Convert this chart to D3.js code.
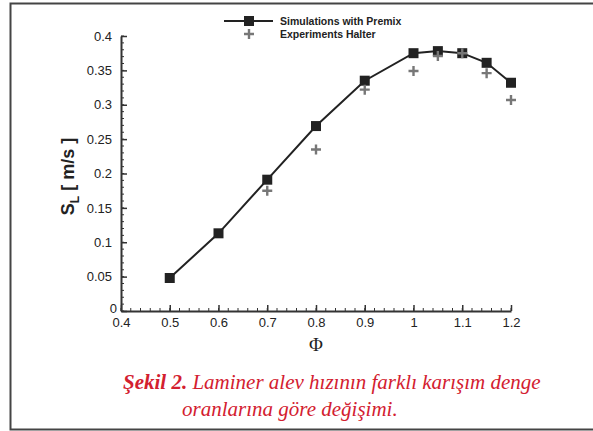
<!DOCTYPE html>
<html>
<head>
<meta charset="utf-8">
<script src="https://cdn.jsdelivr.net/npm/d3@7"></script>
<style>
  body { margin: 0; background: #fff; }
  svg { display: block; }
</style>
</head>
<body>
<div id="chart"></div>
<script>
// simulations (Premix) and experiments (Halter)
let simPhi = [0.5, 0.6, 0.7, 0.8, 0.9, 1.0, 1.05, 1.1, 1.15, 1.2];
let simSL = [0.048, 0.113, 0.191, 0.269, 0.335, 0.375, 0.378, 0.375, 0.361, 0.332];
let expPhi = [0.7, 0.8, 0.9, 1.0, 1.05, 1.1, 1.15, 1.2];
let expSL = [0.175, 0.235, 0.322, 0.349, 0.371, 0.375, 0.346, 0.307];
let xTicks = [0.4, 0.5, 0.6, 0.7, 0.8, 0.9, 1, 1.1, 1.2];
let yTicks = [0, 0.05, 0.1, 0.15, 0.2, 0.25, 0.3, 0.35, 0.4];
let legendNames = ["Simulations with Premix", "Experiments Halter"];
let captionBold = "Şekil 2.";
let captionLine1 = " Laminer alev hızının farklı karışım denge";
let captionLine2 = "oranlarına göre değişimi.";

let W = 593, H = 431;
let svg = d3.select("#chart").append("svg")
  .attr("width", W).attr("height", H);

// outer frame (top, left, bottom)
svg.append("path")
  .attr("d", "M593,3.5 H10.5 V429.5 H593")
  .attr("fill", "none").attr("stroke", "#444").attr("stroke-width", 2);

let x = d3.scaleLinear().domain([0.4, 1.2]).range([121, 511]);
let y = d3.scaleLinear().domain([0, 0.4]).range([311, 36]);

let g = svg.append("g");
let axisColor = "#333";

// minor ticks
let xMinor = d3.range(0.4, 1.2001, 0.02);
let yMinor = d3.range(0, 0.4001, 0.01);
g.selectAll(".xminor").data(xMinor).enter().append("line")
  .attr("x1", d => x(d)).attr("x2", d => x(d))
  .attr("y1", y(0)).attr("y2", y(0) - 3)
  .attr("stroke", axisColor).attr("stroke-width", 1);
g.selectAll(".yminor").data(yMinor).enter().append("line")
  .attr("y1", d => y(d)).attr("y2", d => y(d))
  .attr("x1", x(0.4)).attr("x2", x(0.4) + 3)
  .attr("stroke", axisColor).attr("stroke-width", 1);

// axes with inward ticks
let fmt = d => d3.format("")(+d.toFixed(2));
let xAx = g.append("g").attr("transform", `translate(0,${y(0)})`)
  .call(d3.axisBottom(x).tickValues(xTicks).tickSizeInner(-6).tickSizeOuter(0)
    .tickPadding(7).tickFormat(fmt));
let yAx = g.append("g").attr("transform", `translate(${x(0.4)},0)`)
  .call(d3.axisLeft(y).tickValues(yTicks).tickSizeInner(-6).tickSizeOuter(0)
    .tickPadding(9).tickFormat(fmt));

[xAx, yAx].forEach(a => {
  a.select(".domain").attr("stroke", axisColor).attr("stroke-width", 2);
  a.selectAll(".tick line").attr("stroke", axisColor).attr("stroke-width", 1.5);
  a.selectAll("text").attr("fill", "#222")
    .style("font-family", "Liberation Sans, Arial, sans-serif").style("font-size", "13px");
});
yAx.selectAll(".tick text").filter(d => d === 0).attr("dy", "0.1em").attr("x", -4);

// axis titles
let yTitle = g.append("text")
  .attr("transform", `translate(74,${y(0.2) + 3}) rotate(-90)`)
  .attr("text-anchor", "middle")
  .style("font-family", "Liberation Sans, Arial, sans-serif")
  .style("font-weight", "bold").style("font-size", "18px").attr("fill", "#222");
yTitle.append("tspan").text("S");
yTitle.append("tspan").attr("dy", 5).style("font-size", "12px").text("L");
yTitle.append("tspan").attr("dy", -5).text(" [ m/s ]");

g.append("text")
  .attr("x", x(0.8)).attr("y", 351)
  .attr("text-anchor", "middle")
  .style("font-family", "Liberation Serif, Times New Roman, serif")
  .style("font-size", "19px").attr("fill", "#222")
  .text("Φ");

// simulation line + squares
let pts = simPhi.map((p, i) => [p, simSL[i]]);
g.append("path").datum(pts)
  .attr("d", d3.line().x(d => x(d[0])).y(d => y(d[1])))
  .attr("fill", "none").attr("stroke", "#222").attr("stroke-width", 2);
let sq = 10;
g.selectAll(".sim").data(pts).enter().append("rect")
  .attr("x", d => x(d[0]) - sq / 2).attr("y", d => y(d[1]) - sq / 2)
  .attr("width", sq).attr("height", sq).attr("fill", "#222");

// experiment crosses
function drawPlus(sel, cx, cy) {
  sel.append("path")
    .attr("d", `M${cx - 5},${cy} H${cx + 5} M${cx},${cy - 5} V${cy + 5}`)
    .attr("stroke", "#777").attr("stroke-width", 2.4).attr("fill", "none");
}
expPhi.forEach((p, i) => drawPlus(g, x(p), y(expSL[i])));

// legend
let lg = svg.append("g");
lg.append("line").attr("x1", 224).attr("x2", 273).attr("y1", 21).attr("y2", 21)
  .attr("stroke", "#222").attr("stroke-width", 2);
lg.append("rect").attr("x", 244).attr("y", 16).attr("width", 10).attr("height", 10).attr("fill", "#222");
drawPlus(lg, 249, 34);
legendNames.forEach((n, i) => {
  lg.append("text").attr("x", 280).attr("y", 25 + i * 13)
    .style("font-family", "Liberation Sans, Arial, sans-serif")
    .style("font-weight", "bold").style("font-size", "10.5px")
    .attr("fill", "#222").text(n);
});

// caption
let capColor = "#d3202f";
let c1 = svg.append("text").attr("x", 123).attr("y", 389)
  .style("font-family", "Liberation Serif, Times New Roman, serif")
  .style("font-style", "italic").style("font-size", "21px").attr("fill", capColor);
c1.append("tspan").style("font-weight", "bold").text(captionBold);
c1.append("tspan").text(captionLine1);
svg.append("text").attr("x", 182).attr("y", 416)
  .style("font-family", "Liberation Serif, Times New Roman, serif")
  .style("font-style", "italic").style("font-size", "21px").attr("fill", capColor)
  .text(captionLine2);
</script>
</body>
</html>
